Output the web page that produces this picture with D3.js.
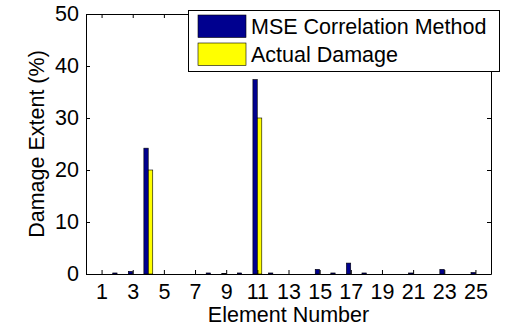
<!DOCTYPE html>
<html>
<head>
<meta charset="utf-8">
<script src="https://cdn.jsdelivr.net/npm/d3@7/dist/d3.min.js"></script>
<style>
  html, body { margin: 0; padding: 0; background: #fff; }
  svg { display: block; }
  text { font-family: "Liberation Sans", Arial, Helvetica, sans-serif; fill: #000; }
</style>
</head>
<body>
<svg id="chart" width="513" height="328"></svg>
<script>
// Element numbers and damage extent (%) per element
const elements = d3.range(1, 26);
const mseCorrelation = [0, 0.2, 0.5, 24.2, 0, 0, 0, 0.2, 0.1, 0.2, 37.4, 0.2, 0, 0, 0.9, 0.2, 2.1, 0.2, 0, 0, 0.2, 0, 0.9, 0, 0.3];
const actualDamage  = [0, 0, 0, 20, 0, 0, 0, 0, 0, 0, 30, 0, 0, 0, 0, 0, 0, 0, 0, 0, 0, 0, 0, 0, 0];
const seriesNames = ["MSE Correlation Method", "Actual Damage"];
const seriesColors = ["#00008f", "#ffff00"];
const xTickValues = d3.range(1, 26, 2);
const yTickValues = [0, 10, 20, 30, 40, 50];

const svg = d3.select("#chart");
const plot = { left: 86, right: 491, top: 14, bottom: 274 };
const fontSize = 21.5;

const x = d3.scaleLinear().domain([0, 26]).range([plot.left, plot.right]);
const y = d3.scaleLinear().domain([0, 50]).range([plot.bottom, plot.top]);

const barW = 0.28;
const offsets = [-barW / 2 - 0.005, barW / 2 + 0.005];
const series = [mseCorrelation, actualDamage];

// grouped bars
series.forEach((vals, si) => {
  svg.append("g")
    .selectAll("rect")
    .data(elements.map((e, i) => ({ e, v: vals[i] })).filter(d => d.v > 0))
    .join("rect")
    .attr("x", d => x(d.e + offsets[si] - barW / 2))
    .attr("width", d => x(barW) - x(0))
    .attr("y", d => y(d.v))
    .attr("height", d => y(0) - y(d.v))
    .attr("fill", seriesColors[si])
    .attr("stroke", "#000")
    .attr("stroke-width", 0.6);
});

// axes with inward ticks, mirrored on top and right
const tickLen = 4;
const xBottom = d3.axisBottom(x).tickValues(xTickValues).tickSizeInner(-tickLen).tickSizeOuter(0).tickPadding(10);
const xTop = d3.axisTop(x).tickValues(xTickValues).tickSizeInner(-tickLen).tickSizeOuter(0).tickFormat("");
const yLeft = d3.axisLeft(y).tickValues(yTickValues).tickSizeInner(-tickLen).tickSizeOuter(0).tickPadding(7);
const yRight = d3.axisRight(y).tickValues(yTickValues).tickSizeInner(-tickLen).tickSizeOuter(0).tickFormat("");

function styleAxis(g) {
  g.select(".domain").attr("stroke", "#000").attr("stroke-width", 1);
  g.selectAll(".tick line").attr("stroke", "#000").attr("stroke-width", 1);
  g.selectAll(".tick text").attr("font-size", fontSize);
  g.attr("font-family", null).attr("font-size", null);
}

svg.append("g").attr("transform", `translate(0,${plot.bottom})`).call(xBottom).call(styleAxis);
svg.append("g").attr("transform", `translate(0,${plot.top})`).call(xTop).call(styleAxis);
svg.append("g").attr("transform", `translate(${plot.left},0)`).call(yLeft).call(styleAxis);
svg.append("g").attr("transform", `translate(${plot.right},0)`).call(yRight).call(styleAxis);

// axis titles
svg.append("text")
  .attr("x", (plot.left + plot.right) / 2)
  .attr("y", 322)
  .attr("text-anchor", "middle")
  .attr("font-size", fontSize)
  .text("Element Number");

svg.append("text")
  .attr("transform", `translate(44,${(plot.top + plot.bottom) / 2}) rotate(-90)`)
  .attr("text-anchor", "middle")
  .attr("font-size", fontSize)
  .text("Damage Extent (%)");

// legend
const legend = svg.append("g");
legend.append("rect")
  .attr("x", 188.5).attr("y", 10.5).attr("width", 311).attr("height", 61)
  .attr("fill", "#fff").attr("stroke", "#000").attr("stroke-width", 1);
seriesNames.forEach((name, i) => {
  const rowY = 15 + i * 28;
  legend.append("rect")
    .attr("x", 198).attr("y", rowY).attr("width", 48).attr("height", 22.5)
    .attr("fill", seriesColors[i]).attr("stroke", "#000").attr("stroke-width", 0.6);
  legend.append("text")
    .attr("x", 251).attr("y", rowY + 11.5)
    .attr("dy", "0.35em")
    .attr("font-size", fontSize)
    .text(name);
});
</script>
</body>
</html>
